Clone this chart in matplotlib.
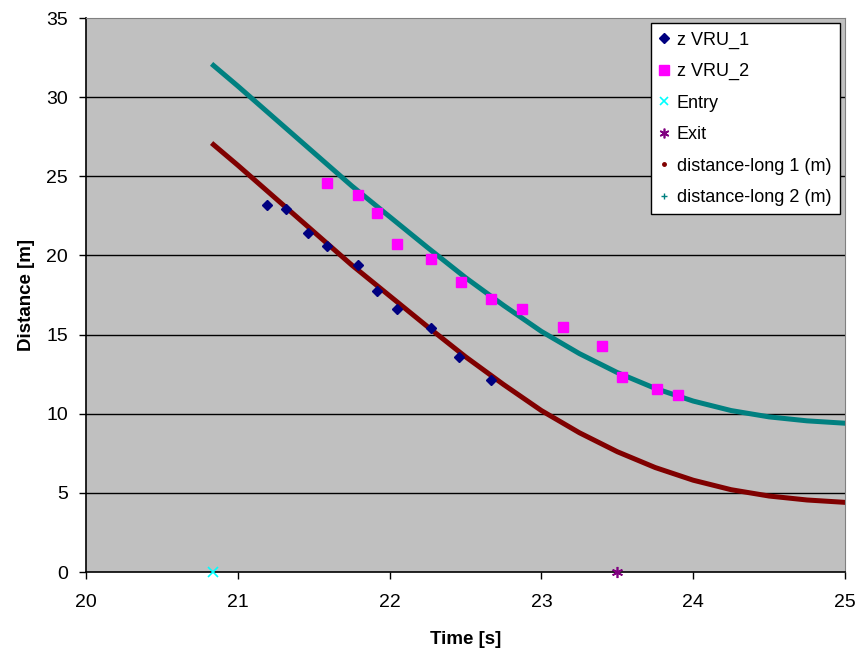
import matplotlib.pyplot as plt
from matplotlib.lines import Line2D

plt.rcParams['font.family'] = ['Liberation Sans', 'DejaVu Sans']

# measured points
vru1_t = [21.19, 21.32, 21.46, 21.59, 21.79, 21.92, 22.05, 22.27, 22.46, 22.67]
vru1_d = [23.2, 22.95, 21.4, 20.6, 19.4, 17.75, 16.6, 15.4, 13.6, 12.1]

vru2_t = [21.59, 21.79, 21.92, 22.05, 22.27, 22.47, 22.67, 22.87, 23.14, 23.40, 23.53, 23.76, 23.90]
vru2_d = [24.6, 23.85, 22.65, 20.75, 19.75, 18.3, 17.25, 16.6, 15.5, 14.3, 12.3, 11.55, 11.2]

entry_t, entry_d = [20.84], [0]
exit_t, exit_d = [23.50], [0]

# distance-long curves
curve_t = [20.84, 21.0, 21.25, 21.5, 21.75, 22.0, 22.25, 22.5, 22.75,
           23.0, 23.25, 23.5, 23.75, 24.0, 24.25, 24.5, 24.75, 25.0]
long1_d = [27.0, 25.7, 23.6, 21.5, 19.4, 17.45, 15.5, 13.6, 11.85,
           10.2, 8.8, 7.6, 6.6, 5.8, 5.2, 4.8, 4.55, 4.4]
long2_d = [32.0, 30.7, 28.6, 26.5, 24.4, 22.45, 20.5, 18.6, 16.85,
           15.2, 13.8, 12.6, 11.6, 10.8, 10.2, 9.8, 9.55, 9.4]

fig = plt.figure(figsize=(8.59, 6.55), dpi=100)
ax = fig.add_axes([0.1001, 0.1267, 0.8836, 0.8458])
ax.set_facecolor('#C0C0C0')

for y in range(5, 35, 5):
    ax.axhline(y, color='black', lw=1.0, zorder=1)

ax.plot(curve_t, long1_d, color='#800000', lw=3.6, zorder=2)
ax.plot(curve_t, long2_d, color='#008080', lw=3.6, zorder=2)

ax.plot(vru1_t, vru1_d, 'D', color='#000080', ms=5.5, ls='none', zorder=3)
ax.plot(vru2_t, vru2_d, 's', color='#FF00FF', ms=7, ls='none', zorder=3)
ax.plot(entry_t, entry_d, 'x', color='#00FFFF', ms=7, mew=1.2, ls='none', zorder=4, clip_on=False)
ax.plot(exit_t, exit_d, marker=(6, 2, 0), color='#800080', ms=8, mew=1.2, ls='none', zorder=4, clip_on=False)

ax.set_xlim(20, 25)
ax.set_ylim(0, 35)
ax.set_xticks(range(20, 26))
ax.set_yticks(range(0, 36, 5))
ax.tick_params(direction='out', length=5, width=1, labelsize=14)
ax.tick_params(axis='x', pad=11)
ax.tick_params(axis='y', pad=8)

ax.spines['top'].set_color('#808080')
ax.spines['right'].set_color('#808080')
ax.spines['left'].set_linewidth(1.2)
ax.spines['bottom'].set_linewidth(1.2)

ax.set_xlabel('Time [s]', fontsize=13.5, fontweight='bold', labelpad=14)
ax.set_ylabel('Distance [m]', fontsize=13.5, fontweight='bold', labelpad=8)

handles = [
    Line2D([], [], marker='D', color='#000080', ls='none', ms=5),
    Line2D([], [], marker='s', color='#FF00FF', ls='none', ms=7),
    Line2D([], [], marker='x', color='#00FFFF', ls='none', ms=6, mew=1.2),
    Line2D([], [], marker=(6, 2, 0), color='#800080', ls='none', ms=7, mew=1.2),
    Line2D([], [], marker='o', color='#800000', ls='none', ms=2.5),
    Line2D([], [], marker='+', color='#008080', ls='none', ms=4),
]
labels = ['z VRU_1', 'z VRU_2', 'Entry', 'Exit', 'distance-long 1 (m)', 'distance-long 2 (m)']
leg = ax.legend(handles, labels, loc='upper right', fontsize=13, frameon=True, fancybox=False,
                edgecolor='black', framealpha=1, borderaxespad=0.3, handlelength=0.6,
                handletextpad=0.4, labelspacing=0.8, borderpad=0.45)
leg.get_frame().set_linewidth(1.0)

plt.savefig('out.png', dpi=100)
